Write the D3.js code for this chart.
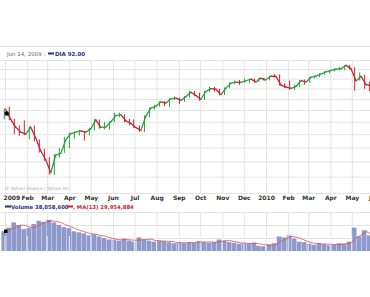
<!DOCTYPE html>
<html>
<head>
<meta charset="utf-8">
<script src="https://cdn.jsdelivr.net/npm/d3@7"></script>
<style>
  body { margin: 0; background: #fff; }
  svg { display: block; }
  text { font-family: "DejaVu Sans", Verdana, sans-serif; }
</style>
</head>
<body>
<svg id="chart" width="370" height="297"></svg>
<script>
// weekly data (week ending): DIA close / high / low, avg daily volume in millions
const weekEnds = [
  '2009-01-02','2009-01-09','2009-01-16','2009-01-23','2009-01-30','2009-02-06','2009-02-13','2009-02-20','2009-02-27',
  '2009-03-06','2009-03-13','2009-03-20','2009-03-27','2009-04-03','2009-04-10','2009-04-17','2009-04-24','2009-05-01',
  '2009-05-08','2009-05-15','2009-05-22','2009-05-29','2009-06-05','2009-06-12','2009-06-19','2009-06-26','2009-07-02',
  '2009-07-10','2009-07-17','2009-07-24','2009-07-31','2009-08-07','2009-08-14','2009-08-21','2009-08-28','2009-09-04',
  '2009-09-11','2009-09-18','2009-09-25','2009-10-02','2009-10-09','2009-10-16','2009-10-23','2009-10-30','2009-11-06',
  '2009-11-13','2009-11-20','2009-11-27','2009-12-04','2009-12-11','2009-12-18','2009-12-24','2009-12-31','2010-01-08',
  '2010-01-15','2010-01-22','2010-01-29','2010-02-05','2010-02-12','2010-02-19','2010-02-26','2010-03-05','2010-03-12',
  '2010-03-19','2010-03-26','2010-04-02','2010-04-09','2010-04-16','2010-04-23','2010-04-30','2010-05-07','2010-05-14',
  '2010-05-21','2010-05-28','2010-06-04','2010-06-11'
];
const diaClose = [
  90.3, 86.0, 82.8, 80.8, 80.0, 82.8, 78.5, 73.7, 70.6,
  66.3, 72.2, 72.8, 77.8, 80.2, 80.8, 81.3, 80.8, 82.1,
  85.8, 82.7, 82.8, 85.0, 87.6, 88.0, 85.4, 84.4, 82.8,
  81.5, 87.4, 90.9, 91.7, 93.7, 93.2, 95.1, 95.4, 94.4,
  96.1, 98.2, 96.7, 94.9, 98.6, 100.0, 99.7, 97.1, 100.2,
  102.7, 103.2, 103.1, 103.9, 104.7, 103.3, 105.2, 104.3, 106.2,
  106.1, 101.7, 100.7, 100.1, 101.0, 104.0, 103.3, 105.7, 106.3,
  107.4, 108.5, 109.3, 110.0, 110.2, 112.0, 110.1, 103.8, 106.2,
  101.9, 101.4, 99.3, 102.1
];
const diaHigh = [
  90.8, 91.5, 86.3, 83.5, 85.6, 83.2, 83.5, 78.0, 74.5,
  71.5, 72.6, 74.7, 79.0, 80.7, 81.0, 81.8, 81.3, 82.6,
  86.2, 86.0, 85.0, 85.3, 88.9, 88.9, 88.2, 86.2, 86.0,
  83.5, 87.7, 91.2, 92.3, 94.0, 94.0, 95.3, 96.3, 95.6,
  96.4, 98.9, 98.8, 98.0, 98.8, 100.9, 100.9, 99.9, 100.6,
  103.1, 104.1, 104.3, 105.0, 104.9, 105.0, 105.4, 105.5, 106.4,
  107.3, 107.2, 102.6, 104.0, 101.9, 104.3, 104.5, 105.9, 106.5,
  107.8, 109.0, 109.5, 110.3, 111.2, 112.1, 112.3, 111.0, 108.2,
  107.0, 103.5, 103.3, 102.5
];
const diaLow = [
  86.0, 85.7, 80.0, 79.4, 79.7, 78.0, 77.2, 73.1, 70.2,
  65.6, 65.5, 71.3, 73.0, 74.7, 78.2, 79.5, 77.5, 79.6,
  81.5, 82.2, 81.8, 81.7, 84.8, 86.9, 84.8, 83.6, 82.5,
  80.9, 80.9, 86.9, 90.2, 91.6, 91.8, 91.4, 94.6, 92.8,
  93.8, 95.7, 96.3, 94.2, 94.6, 98.3, 98.6, 96.8, 96.9,
  100.1, 102.2, 101.8, 102.9, 102.9, 102.9, 103.3, 104.0, 104.1,
  105.5, 101.4, 100.2, 99.4, 99.4, 100.7, 101.9, 102.9, 105.1,
  105.8, 106.9, 107.8, 108.8, 109.2, 109.4, 109.8, 99.0, 104.0,
  99.9, 98.7, 98.8, 97.6
];
const volumeM = [
  38, 45, 55, 50, 42, 44, 52, 58, 56,
  60, 55, 50, 46, 44, 38, 36, 34, 30,
  32, 28, 25, 22, 22, 20, 24, 20, 18,
  26, 22, 20, 18, 20, 19, 17, 15, 16,
  15, 17, 16, 19, 17, 16, 17, 22, 20,
  17, 16, 14, 15, 14, 16, 10, 9, 13,
  15, 28, 26, 30, 24, 18, 17, 14, 12,
  15, 13, 11, 12, 15, 14, 18, 45, 28,
  40, 30, 26, 24
];
const monthLabels = ['2009','Feb','Mar','Apr','May','Jun','Jul','Aug','Sep','Oct','Nov','Dec',
  '2010','Feb','Mar','Apr','May','Jun'];
const priceTicks = [60, 65, 70, 75, 80, 85, 90, 95, 100, 105, 110, 115];
const volTicks = [25, 50, 75];

const W = 370;
const parse = d3.timeParse('%Y-%m-%d');
const dates = weekEnds.map(parse);
const firstMonth = new Date(2009, 0, 1);
const monthDates = monthLabels.map((m, i) => d3.timeMonth.offset(firstMonth, i));

const svg = d3.select('#chart');

// scales
const x = d3.scaleTime()
  .domain([new Date(2009, 0, 1), new Date(2010, 0, 1)])
  .range([5, 266]);
const y = d3.scaleLog().domain([60, 115]).range([193, 60]);
const yVol = d3.scaleLinear().domain([0, 75]).range([251, 212]);

// top separator + legend
svg.append('line').attr('x1', 0).attr('x2', W).attr('y1', 46.5).attr('y2', 46.5)
  .attr('stroke', '#e2e2e2');
svg.append('text').attr('x', 7).attr('y', 56).attr('font-size', 5.5).attr('fill', '#666')
  .text('Jun 14, 2009 :');
svg.append('rect').attr('x', 48).attr('y', 52.5).attr('width', 6).attr('height', 2).attr('fill', '#1f2f8a');
svg.append('text').attr('x', 55).attr('y', 56).attr('font-size', 5.5).attr('fill', '#1f2f8a')
  .attr('font-weight', 'bold').text('DIA 92.00');

// price grid
const gridStyle = g => {
  g.select('.domain').remove();
  g.selectAll('line').attr('stroke', '#e4e4e4');
};
svg.append('g')
  .call(d3.axisLeft(y).tickValues(priceTicks).tickSize(-W).tickFormat(''))
  .call(gridStyle);
svg.append('g')
  .attr('transform', 'translate(0,193)')
  .call(d3.axisBottom(x).tickValues(monthDates).tickSize(-133).tickFormat(''))
  .call(gridStyle);

// month labels
const lab = svg.append('g')
  .attr('transform', 'translate(0,193)')
  .call(d3.axisBottom(x).tickValues(monthDates).tickSize(0).tickPadding(3)
    .tickFormat((d, i) => monthLabels[i]));
lab.select('.domain').remove();
lab.selectAll('text').attr('font-size', 6).attr('fill', '#333').attr('font-weight', 'bold')
  .attr('font-family', '"DejaVu Serif", serif');
lab.selectAll('.tick').filter((d, i) => i === 0).select('text')
  .attr('text-anchor', 'start').attr('x', -2);

// copyright
svg.append('text').attr('x', 5).attr('y', 190).attr('font-size', 4.6).attr('fill', '#aaa')
  .attr('textLength', 64).text('\u00a9 Yahoo! Finance | Yahoo! Inc');

// price: weekly range ticks + close segments, green up / red down
const pts = dates.map((d, i) => ({ d, c: diaClose[i], h: diaHigh[i], l: diaLow[i] }));
const isUp = i => i === 0 || pts[i].c >= pts[i - 1].c;
const colour = i => isUp(i) ? '#2e9e3e' : '#cc2233';
svg.append('g').selectAll('line')
  .data(pts)
  .join('line')
  .attr('x1', p => x(d3.timeDay.offset(p.d, -2)))
  .attr('x2', p => x(d3.timeDay.offset(p.d, -2)))
  .attr('y1', p => y(p.h))
  .attr('y2', p => y(p.l))
  .attr('stroke', (p, i) => colour(i))
  .attr('stroke-width', 1);
svg.append('g').selectAll('line')
  .data(pts.slice(1))
  .join('line')
  .attr('x1', (p, i) => x(pts[i].d))
  .attr('y1', (p, i) => y(pts[i].c))
  .attr('x2', p => x(p.d))
  .attr('y2', p => y(p.c))
  .attr('stroke', (p, i) => colour(i + 1))
  .attr('stroke-width', 1.3)
  .attr('stroke-linecap', 'round');
svg.append('circle').attr('cx', x(dates[0]) + 1).attr('cy', y(diaClose[0]) + 4).attr('r', 2.2).attr('fill', '#000');

// volume legend
svg.append('rect').attr('x', 5).attr('y', 205.5).attr('width', 6).attr('height', 2).attr('fill', '#1f2f8a');
svg.append('text').attr('x', 11).attr('y', 209).attr('font-size', 5.3).attr('fill', '#1f2f8a')
  .attr('font-weight', 'bold').text('Volume 38,058,600');
svg.append('rect').attr('x', 67).attr('y', 205.5).attr('width', 6).attr('height', 2).attr('fill', '#cc2233');
svg.append('text').attr('x', 73).attr('y', 209).attr('font-size', 5.3).attr('fill', '#cc2233')
  .attr('font-weight', 'bold').text(', MA(13) 29,954,884');

// volume grid
svg.append('g')
  .call(d3.axisLeft(yVol).tickValues(volTicks).tickSize(-W).tickFormat(''))
  .call(gridStyle);
svg.append('g')
  .attr('transform', 'translate(0,251)')
  .call(d3.axisBottom(x).tickValues(monthDates).tickSize(-39).tickFormat(''))
  .call(gridStyle);

// volume bars
svg.append('g').selectAll('rect')
  .data(volumeM)
  .join('rect')
  .attr('x', (v, i) => x(d3.timeDay.offset(dates[i], -6)))
  .attr('width', (v, i) => x(dates[i]) - x(d3.timeDay.offset(dates[i], -6)) + 0.4)
  .attr('y', v => yVol(v))
  .attr('height', v => yVol(0) - yVol(v))
  .attr('fill', '#8e9acb');

// white month lines through bars
svg.append('g').selectAll('line')
  .data(monthDates)
  .join('line')
  .attr('x1', d => x(d)).attr('x2', d => x(d))
  .attr('y1', 236).attr('y2', 251)
  .attr('stroke', '#fff').attr('stroke-width', 0.8);

// MA line (3 weeks ~ 13 days)
const ma = volumeM.map((v, i) => d3.mean(volumeM.slice(Math.max(0, i - 2), i + 1)));
svg.append('path')
  .datum(ma)
  .attr('fill', 'none')
  .attr('stroke', '#d9505a')
  .attr('stroke-width', 0.8)
  .attr('d', d3.line().x((v, i) => x(dates[i])).y(v => yVol(v)));
svg.append('rect').attr('x', 4).attr('y', 229.5).attr('width', 3.5).attr('height', 3.5).attr('fill', '#000');
</script>
</body>
</html>
